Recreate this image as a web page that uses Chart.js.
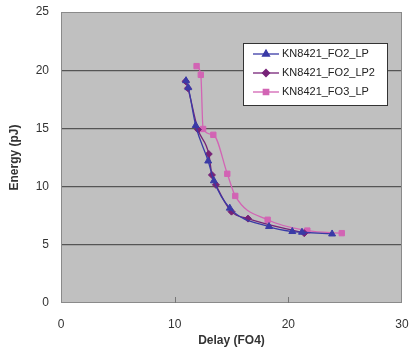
<!DOCTYPE html>
<html><head><meta charset="utf-8">
<script src="https://cdn.jsdelivr.net/npm/chart.js@4/dist/chart.umd.min.js"></script>
<style>html,body{margin:0;padding:0;background:#fff}#w{width:410px;height:351px}</style>
</head><body><div id="w"><canvas id="c" width="410" height="351"></canvas></div>
<script>
const seriesNames = ['KN8421_FO2_LP', 'KN8421_FO2_LP2', 'KN8421_FO3_LP'];
const lpDelay  = [11.0, 11.2, 11.85, 12.95, 13.45, 14.85, 18.3, 20.35, 21.2, 23.85];
const lpEnergy = [19.1, 18.5, 15.25, 12.2, 10.5, 8.15, 6.57, 6.14, 6.08, 5.93];
const lp2Delay  = [10.97, 11.17, 12.05, 13.0, 13.28, 13.63, 15.0, 16.45, 21.4];
const lp2Energy = [19.05, 18.45, 14.9, 12.8, 11.0, 10.15, 7.85, 7.25, 6.0];
const fo3Delay  = [11.93, 12.3, 12.5, 13.4, 14.63, 15.33, 18.18, 21.67, 24.7];
const fo3Energy = [20.35, 19.6, 14.95, 14.45, 11.1, 9.2, 7.15, 6.22, 6.0];
const xTicks = [0, 10, 20, 30];
const yTicks = [0, 5, 10, 15, 20, 25];

function pts(xs, ys){ return xs.map((x,i)=>({x, y: ys[i]})); }

const colors = ['#3a3aa6', '#762277', '#d264b4'];
const shapes = ['triangle', 'rectRot', 'rect'];
const radii = [4, 3.5, 3.8];

const bgPlugin = {
  id: 'bg',
  beforeDraw(chart){
    const {ctx, chartArea:a} = chart;
    ctx.save(); ctx.fillStyle = '#c0c0c0';
    ctx.fillRect(a.left, a.top, a.right-a.left, a.bottom-a.top);
    ctx.restore();
  },
  afterDatasetsDraw(chart){
    const {ctx, chartArea:a} = chart;
    ctx.save();
    ctx.strokeStyle = '#8a8a8a'; ctx.lineWidth = 1;
    ctx.strokeRect(a.left+0.5, a.top+0.5, a.right-a.left-1, a.bottom-a.top-1);
    // inner tick marks on the x axis
    const xs = chart.scales.x;
    ctx.strokeStyle = '#777';
    xTicks.slice(1, -1).forEach(v => {
      const px = Math.round(xs.getPixelForValue(v)) + 0.5;
      ctx.beginPath(); ctx.moveTo(px, a.bottom); ctx.lineTo(px, a.bottom - 6); ctx.stroke();
    });
    // legend box
    const bx = 243.5, by = 43.5, bw = 144, bh = 62;
    ctx.fillStyle = '#fff'; ctx.fillRect(bx, by, bw, bh);
    ctx.strokeStyle = '#333'; ctx.strokeRect(bx, by, bw, bh);
    ctx.font = '11px "Liberation Sans", Arial, sans-serif';
    ctx.textBaseline = 'middle';
    const rows = [54, 73, 92];
    chart.data.datasets.forEach((ds, i) => {
      const y = rows[i];
      ctx.strokeStyle = ds.borderColor; ctx.lineWidth = 1.3;
      ctx.beginPath(); ctx.moveTo(253, y); ctx.lineTo(279, y); ctx.stroke();
      ctx.fillStyle = ds.borderColor;
      ctx.strokeStyle = ds.borderColor;
      Chart.helpers.drawPoint(ctx, {pointStyle: ds.pointStyle, radius: ds.pointRadius, borderWidth: 1}, 266, y);
      ctx.fillStyle = '#222';
      ctx.fillText(ds.label, 282, y);
    });
    ctx.restore();
  }
};

function noPad(s){ s.paddingLeft = 0; s.paddingRight = 0; s.paddingTop = 0; s.paddingBottom = 0; }

new Chart(document.getElementById('c'), {
  type: 'scatter',
  data: {
    datasets: [
      {label: seriesNames[0], data: pts(lpDelay, lpEnergy)},
      {label: seriesNames[1], data: pts(lp2Delay, lp2Energy)},
      {label: seriesNames[2], data: pts(fo3Delay, fo3Energy)}
    ].map((d,i)=>Object.assign(d, {
      showLine: true, borderColor: colors[i], backgroundColor: colors[i],
      borderWidth: 1.3, pointStyle: shapes[i], pointRadius: radii[i],
      pointBorderWidth: 1, cubicInterpolationMode: 'monotone', tension: 0.4
    }))
  },
  options: {
    responsive: false, animation: false,
    layout: {padding: {left: 0, right: 8, top: 12, bottom: 0}},
    plugins: {legend: {display: false}, tooltip: {enabled: false}},
    scales: {
      x: {
        type: 'linear', min: 0, max: 30,
        afterBuildTicks(s){ s.ticks = xTicks.map(v=>({value:v})); },
        afterFit(s){ s.height = 48; noPad(s); },
        grid: {display: false, drawTicks: false},
        border: {display: false},
        ticks: {padding: 14, color: '#333', font: {family: '"Liberation Sans", Arial', size: 12}},
        title: {display: true, text: 'Delay (FO4)', color: '#333', padding: {top: 0, bottom: 3},
                font: {family: '"Liberation Sans", Arial', size: 12, weight: 'bold'}}
      },
      y: {
        type: 'linear', min: 0, max: 25,
        afterBuildTicks(s){ s.ticks = yTicks.map(v=>({value:v})); },
        afterFit(s){ s.width = 61; noPad(s); },
        grid: {color: (c)=> (c.tick && (c.tick.value===0||c.tick.value===25)) ? 'rgba(0,0,0,0)' : '#555', lineWidth: 1.2, drawTicks: false},
        border: {display: false},
        ticks: {padding: 12, color: '#333', font: {family: '"Liberation Sans", Arial', size: 12}},
        title: {display: true, text: 'Energy (pJ)', color: '#333', padding: {top: 7, bottom: 0},
                font: {family: '"Liberation Sans", Arial', size: 12, weight: 'bold'}}
      }
    }
  },
  plugins: [bgPlugin]
});
</script></body></html>
